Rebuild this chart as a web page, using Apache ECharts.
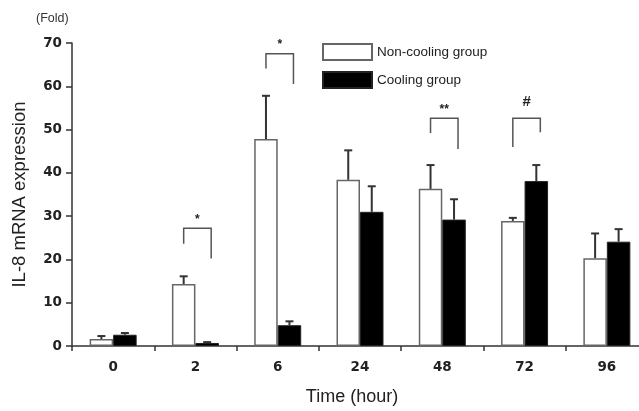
<!DOCTYPE html>
<html>
<head>
<meta charset="utf-8">
<script src="https://cdn.jsdelivr.net/npm/echarts@6/dist/echarts.min.js"></script>
<style>
html,body{margin:0;padding:0;background:#fff;overflow:hidden;width:639px;height:411px;}
#chart{width:660px;height:411px;}
</style>
</head>
<body>
<div id="chart"></div>
<script>
// ---- data ----
var categories = ['0', '2', '6', '24', '48', '72', '96'];
var nonCooling = [1.6, 14.3, 47.8, 38.4, 36.3, 28.9, 20.3];
var nonCoolingErrTop = [2.3, 16.1, 57.8, 45.2, 41.8, 29.6, 26.0];
var cooling = [2.6, 0.7, 4.8, 31.0, 29.2, 38.1, 24.1];
var coolingErrTop = [3.0, 0.9, 5.7, 36.9, 33.9, 41.8, 27.0];
var yTicks = [0, 10, 20, 30, 40, 50, 60, 70];
// significance brackets: [category index, top, left bottom, right bottom, mark]
var brackets = [
  [1, 27.2, 23.6, 20.2, '*'],
  [2, 67.5, 64.1, 60.5, '*'],
  [4, 52.6, 49.2, 45.5, '**'],
  [5, 52.6, 46.0, 49.4, '#']
];

var BAR_W = 23.5;
var FONT = 'Liberation Sans, Arial, Helvetica, sans-serif';
var chart = echarts.init(document.getElementById('chart'), null, {renderer: 'canvas'});

function errSeries(name, vals, tops, side) {
  var data = vals.map(function (v, i) { return [i, v, tops[i]]; });
  return {
    type: 'custom',
    name: name + ' err',
    data: data,
    z: 5,
    silent: true,
    renderItem: function (params, api) {
      var p0 = api.coord([api.value(0), api.value(1)]);
      var p1 = api.coord([api.value(0), api.value(2)]);
      var x = p0[0] + side * BAR_W / 2;
      var st = {stroke: '#333', lineWidth: 2};
      return {
        type: 'group',
        children: [
          {type: 'line', shape: {x1: x, y1: p0[1], x2: x, y2: p1[1]}, style: st},
          {type: 'line', shape: {x1: x - 4, y1: p1[1], x2: x + 4, y2: p1[1]}, style: st}
        ]
      };
    }
  };
}

var option = {
  animation: false,
  backgroundColor: '#fff',
  grid: {left: 72, top: 43, width: 576, height: 309},
  legend: {
    orient: 'vertical',
    left: 322, top: 43, padding: 0,
    itemWidth: 49, itemHeight: 16, itemGap: 10,
    icon: 'rect',
    textStyle: {fontFamily: FONT, fontSize: 13.5, color: '#222'},
    data: ['Non-cooling group', 'Cooling group']
  },
  xAxis: {
    type: 'category',
    data: categories,
    axisLine: {lineStyle: {color: '#333', width: 1.5}},
    axisTick: {show: true, alignWithLabel: false, length: 5, lineStyle: {color: '#333', width: 1.5}},
    axisLabel: {fontFamily: 'DejaVu Sans, sans-serif', fontWeight: 'bold', fontSize: 13.5, color: '#222', margin: 14},
    name: 'Time (hour)',
    nameLocation: 'middle',
    nameGap: 42,
    nameTextStyle: {fontFamily: FONT, fontSize: 18, color: '#222', padding: [0, 16, 0, 0]},
    splitLine: {show: false}
  },
  yAxis: {
    type: 'value',
    min: yTicks[0], max: yTicks[yTicks.length - 1], interval: 10,
    axisLine: {show: true, lineStyle: {color: '#333', width: 1.5}},
    axisTick: {show: true, length: 6, lineStyle: {color: '#333', width: 1.5}},
    axisLabel: {fontFamily: 'DejaVu Sans, sans-serif', fontWeight: 'bold', fontSize: 13.5, color: '#222', margin: 10},
    splitLine: {show: false},
    name: 'IL-8 mRNA expression',
    nameLocation: 'middle',
    nameGap: 43,
    nameTextStyle: {fontFamily: FONT, fontSize: 18.5, color: '#222'}
  },
  graphic: [
    {type: 'text', left: 36, top: 12, style: {text: '(Fold)', fontFamily: FONT, fontSize: 12.5, fill: '#333'}}
  ],
  series: [
    {
      type: 'bar', name: 'Non-cooling group', data: nonCooling,
      barWidth: BAR_W, barGap: '0%',
      itemStyle: {color: '#fff', borderColor: '#666', borderWidth: 1.5},
      z: 2
    },
    {
      type: 'bar', name: 'Cooling group', data: cooling,
      barWidth: BAR_W, barGap: '0%',
      itemStyle: {color: '#000', borderColor: '#222', borderWidth: 1},
      z: 2
    },
    errSeries('Non-cooling group', nonCooling, nonCoolingErrTop, -1),
    errSeries('Cooling group', cooling, coolingErrTop, 1),
    {
      type: 'custom',
      name: 'significance',
      data: brackets,
      z: 6,
      silent: true,
      renderItem: function (params, api) {
        var c = api.value(0);
        var pt = api.coord([c, api.value(1)]);
        var pl = api.coord([c, api.value(2)]);
        var pr = api.coord([c, api.value(3)]);
        var xl = pt[0] - BAR_W / 2;
        var xr = pt[0] + BAR_W / 2 + 4;
        var st = {stroke: '#555', lineWidth: 1.5, fill: null};
        var mark = brackets[params.dataIndex][4];
        return {
          type: 'group',
          children: [
            {type: 'polyline', shape: {points: [[xl, pl[1]], [xl, pt[1]], [xr, pt[1]], [xr, pr[1]]]}, style: st},
            {type: 'text', x: (xl + xr) / 2, y: pt[1] - (mark === '#' ? 9 : 3),
             style: {text: mark, fontFamily: FONT, fontWeight: 'bold',
                     fontSize: mark === '#' ? 15 : 12, fill: '#222', align: 'center', verticalAlign: 'bottom'}}
          ]
        };
      }
    }
  ]
};
chart.setOption(option);
</script>
</body>
</html>
